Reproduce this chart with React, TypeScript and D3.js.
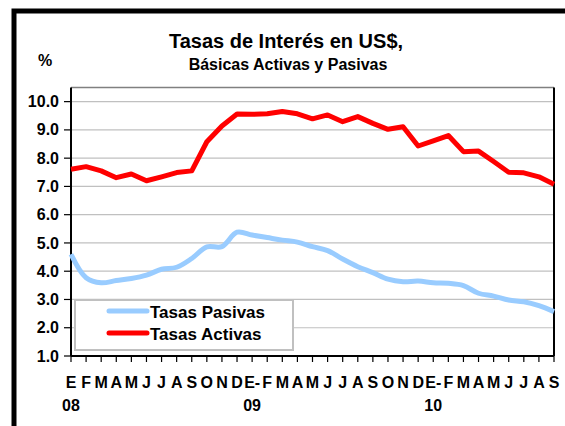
import { useMemo } from 'react'
import * as d3 from 'd3'

// meses (E = enero) y años del eje
const months = ['E', 'F', 'M', 'A', 'M', 'J', 'J', 'A', 'S', 'O', 'N', 'D',
  'E-', 'F', 'M', 'A', 'M', 'J', 'J', 'A', 'S', 'O', 'N', 'D',
  'E-', 'F', 'M', 'A', 'M', 'J', 'J', 'A', 'S']
const years = [[0, '08'], [12, '09'], [24, '10']] as const

const pasivas = [4.60, 3.77, 3.59, 3.67, 3.74, 3.86, 4.07, 4.14, 4.45, 4.86, 4.87, 5.38,
  5.28, 5.19, 5.10, 5.03, 4.87, 4.73, 4.43, 4.16, 3.95, 3.72, 3.63, 3.65,
  3.59, 3.57, 3.49, 3.22, 3.12, 2.98, 2.92, 2.78, 2.57]
const activas = [7.61, 7.70, 7.55, 7.31, 7.44, 7.20, 7.34, 7.49, 7.55, 8.58, 9.14, 9.56,
  9.55, 9.57, 9.65, 9.57, 9.39, 9.53, 9.29, 9.47, 9.23, 9.02, 9.11, 8.43,
  8.61, 8.80, 8.23, 8.25, 7.88, 7.50, 7.48, 7.34, 7.08]
const yTicks = [1, 2, 3, 4, 5, 6, 7, 8, 9, 10]

const W = 565
const H = 426
const left = 71, right = 554, top = 87.5, bottom = 356
const font = 'Arial, "Liberation Sans", sans-serif'

export default function App() {
  const x = useMemo(() => d3.scalePoint<number>().domain(d3.range(months.length)).range([left, right]), [])
  const y = useMemo(() => d3.scaleLinear().domain([1, 10.5]).range([bottom, top]), [])

  const smooth = d3.line<number>().x((_, i) => x(i)!).y(d => y(d)).curve(d3.curveCatmullRom.alpha(0.5))
  const straight = d3.line<number>().x((_, i) => x(i)!).y(d => y(d))

  return (
    <svg width={W} height={H} style={{ position: 'absolute', left: 0, top: 0, background: '#fff' }}
      fontFamily={font} fontWeight="bold">
      {/* marco exterior */}
      <rect x={14} y={11} width={700} height={600} fill="none" stroke="#000" strokeWidth={5} />

      <text x={286} y={48} textAnchor="middle" fontSize={20}>Tasas de Interés en US$,</text>
      <text x={288} y={70} textAnchor="middle" fontSize={16}>Básicas Activas y Pasivas</text>
      <text x={45} y={66} textAnchor="middle" fontSize={16}>%</text>

      {/* rejilla */}
      {yTicks.filter(v => v > 1).map(v => (
        <line key={v} x1={left} x2={right} y1={y(v)} y2={y(v)} stroke="#c0c0c0" strokeWidth={1.2} />
      ))}
      <line x1={left} x2={right} y1={top} y2={top} stroke="#808080" strokeWidth={1.5} />
      <line x1={right} x2={right} y1={top} y2={bottom} stroke="#000" strokeWidth={2} />

      {/* eje y */}
      <line x1={left} x2={left} y1={top} y2={bottom} stroke="#000" strokeWidth={2} />
      {yTicks.map(v => (
        <g key={v}>
          <line x1={left - 7} x2={left} y1={y(v)} y2={y(v)} stroke="#000" strokeWidth={1.2} />
          <text x={59} y={y(v)} dy="0.35em" textAnchor="end" fontSize={16}>{v.toFixed(1)}</text>
        </g>
      ))}

      {/* eje x */}
      <line x1={left} x2={right} y1={bottom} y2={bottom} stroke="#000" strokeWidth={2} />
      {months.map((m, i) => (
        <g key={i}>
          <line x1={x(i)} x2={x(i)} y1={bottom} y2={bottom + 6} stroke="#000" strokeWidth={1.2} />
          <text x={x(i)} y={388} textAnchor="middle" fontSize={16}>{m}</text>
        </g>
      ))}
      {years.map(([i, t]) => (
        <text key={t} x={x(i)} y={411} textAnchor="middle" fontSize={16}>{t}</text>
      ))}

      {/* leyenda */}
      <rect x={75} y={300} width={218} height={50} fill="#fff" stroke="#c0c0c0" strokeWidth={2} />
      <line x1={109} x2={147} y1={311} y2={311} stroke="#99ccff" strokeWidth={5} strokeLinecap="round" />
      <line x1={109} x2={147} y1={333} y2={333} stroke="#ff0000" strokeWidth={5} strokeLinecap="round" />
      <text x={150} y={318} fontSize={17}>Tasas Pasivas</text>
      <text x={150} y={340} fontSize={17}>Tasas Activas</text>

      {/* series */}
      <path d={smooth(pasivas)!} fill="none" stroke="#99ccff" strokeWidth={5} strokeLinejoin="round" />
      <path d={straight(activas)!} fill="none" stroke="#ff0000" strokeWidth={5} strokeLinejoin="round" />
    </svg>
  )
}
